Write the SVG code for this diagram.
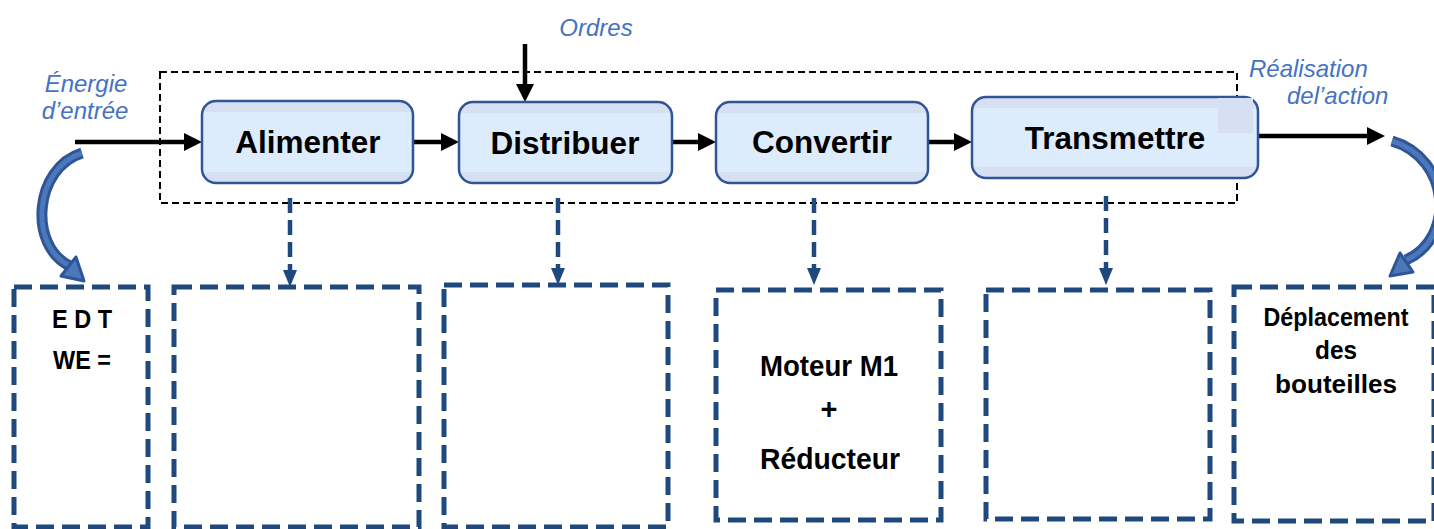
<svg xmlns="http://www.w3.org/2000/svg" width="1434" height="529" viewBox="0 0 1434 529">
<style>
.node{stroke:#2f5597;stroke-width:2.5;fill:url(#band)}
.nt{font-family:"Liberation Sans",Arial,sans-serif;font-weight:bold;font-size:31.5px;fill:#000;text-anchor:middle}
.lbl{font-family:"Liberation Sans",Arial,sans-serif;font-style:italic;font-size:24px;fill:#4472c4}
.flow{stroke:#000;stroke-width:4.5;fill:none}
.drop{stroke:#1f497d;stroke-width:4.5;stroke-dasharray:15 7;fill:none}
.box{stroke:#1f497d;stroke-width:5;stroke-dasharray:18 8;fill:none}
.bt{font-family:"Liberation Sans Narrow","Liberation Sans",Arial,sans-serif;font-weight:bold;fill:#000;text-anchor:middle}
.frame{stroke:#000;stroke-width:2;stroke-dasharray:7 4;fill:none}
.arcO{stroke:#2f5597;stroke-width:11;fill:none}
.arcI{stroke:#4a78b8;stroke-width:5;fill:none}
</style>
<defs>
<linearGradient id="band" x1="0" y1="0" x2="0" y2="1">
<stop offset="0" stop-color="#d6e0f2"/><stop offset="0.14" stop-color="#d6e0f2"/>
<stop offset="0.14" stop-color="#ddecfc"/><stop offset="0.86" stop-color="#ddecfc"/>
<stop offset="0.86" stop-color="#d6e0f2"/><stop offset="1" stop-color="#d6e0f2"/>
</linearGradient>
</defs>
<rect width="1434" height="529" fill="#fff"/>

<rect class="frame" x="160" y="72" width="1077" height="131"/>

<g id="connectors">
<path d="M75 142 H184" class="flow"/><path d="M184 133 L202 142 L184 151 Z" fill="#000"/>
<path d="M413 142 H441" class="flow"/><path d="M441 133 L459 142 L441 151 Z" fill="#000"/>
<path d="M672 142 H698" class="flow"/><path d="M698 133 L716 142 L698 151 Z" fill="#000"/>
<path d="M928 142 H954" class="flow"/><path d="M954 133 L972 142 L954 151 Z" fill="#000"/>
<path d="M1258 136 H1367" class="flow"/><path d="M1367 127 L1385 136 L1367 145 Z" fill="#000"/>
<path d="M525 44 V84" class="flow"/><path d="M516 84 L525 102 L534 84 Z" fill="#000"/>
<path class="drop" d="M290 198 V272"/><path d="M283 270 L290 287 L297 270 Z" fill="#1f497d"/>
<path class="drop" d="M558 198 V270"/><path d="M551 268 L558 285 L565 268 Z" fill="#1f497d"/>
<path class="drop" d="M814 198 V270"/><path d="M807 268 L814 285 L821 268 Z" fill="#1f497d"/>
<path class="drop" d="M1106 196 V270"/><path d="M1099 268 L1106 285 L1113 268 Z" fill="#1f497d"/>
<g id="arc-left">
<path class="arcO" d="M82 153 C34 168 28 246 70 266"/>
<path class="arcI" d="M82 153 C34 168 28 246 70 266"/>
<path d="M61 276 L84 281 L76 257 Z" fill="#4a78b8" stroke="#2f5597" stroke-width="3" stroke-linejoin="round"/>
</g>
<g id="arc-right">
<path class="arcO" d="M1392 141 C1450 158 1456 238 1406 260"/>
<path class="arcI" d="M1392 141 C1450 158 1456 238 1406 260"/>
<path d="M1413 272 L1390 276 L1400 253 Z" fill="#4a78b8" stroke="#2f5597" stroke-width="3" stroke-linejoin="round"/>
</g>
</g>

<g id="n-alimenter"><rect class="node" x="202" y="101" width="211" height="82" rx="14"/><text class="nt" x="308" y="153">Alimenter</text></g>
<g id="n-distribuer"><rect class="node" x="459" y="102" width="213" height="81" rx="14"/><text class="nt" x="565" y="154">Distribuer</text></g>
<g id="n-convertir"><rect class="node" x="716" y="102" width="212" height="81" rx="14"/><text class="nt" x="822" y="153">Convertir</text></g>
<g id="n-transmettre"><rect class="node" x="972" y="97" width="286" height="81" rx="14"/><rect x="1218" y="98" width="35" height="35" fill="#d6e0f2"/><text class="nt" x="1115" y="149">Transmettre</text></g>

<g id="lbl-energie"><text class="lbl" x="86" y="92" text-anchor="middle">Énergie</text><text class="lbl" x="85" y="119" text-anchor="middle">d’entrée</text></g>
<g id="lbl-ordres"><text class="lbl" x="596" y="36" text-anchor="middle">Ordres</text></g>
<g id="lbl-realisation"><text class="lbl" x="1249" y="77">Réalisation</text><text class="lbl" x="1287" y="104">del’action</text></g>

<g id="b-edt"><rect class="box" x="14" y="287" width="134" height="240"/>
<text class="bt" x="82" y="328" font-size="26" textLength="60" lengthAdjust="spacingAndGlyphs">E D T</text>
<text class="bt" x="82" y="369" font-size="26" textLength="58" lengthAdjust="spacingAndGlyphs">WE =</text></g>
<g id="b-2"><rect class="box" x="174" y="287" width="245" height="240"/></g>
<g id="b-3"><rect class="box" x="444" y="285" width="224" height="242"/></g>
<g id="b-moteur"><rect class="box" x="716" y="290" width="225" height="230"/>
<text class="bt" x="829" y="376" font-size="29" textLength="138" lengthAdjust="spacingAndGlyphs">Moteur M1</text>
<text class="bt" x="829" y="419" font-size="29">+</text>
<text class="bt" x="830" y="469" font-size="29" textLength="140" lengthAdjust="spacingAndGlyphs">Réducteur</text></g>
<g id="b-5"><rect class="box" x="986" y="290" width="224" height="229"/></g>
<g id="b-deplacement"><rect class="box" x="1234" y="287" width="200" height="234"/>
<text class="bt" x="1336" y="326" font-size="26" textLength="145" lengthAdjust="spacingAndGlyphs">Déplacement</text>
<text class="bt" x="1336" y="359" font-size="26" textLength="42" lengthAdjust="spacingAndGlyphs">des</text>
<text class="bt" x="1336" y="393" font-size="26" textLength="122" lengthAdjust="spacingAndGlyphs">bouteilles</text></g>
</svg>
